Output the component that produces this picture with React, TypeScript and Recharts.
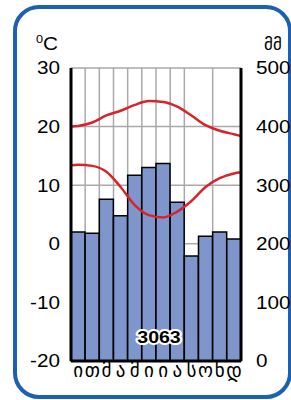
import { ComposedChart, Bar, Line, XAxis, YAxis, CartesianGrid } from 'recharts';

// months (Georgian initials), precipitation in mm
const months = ['ი', 'თ', 'მ', 'ა', 'მ', 'ი', 'ი', 'ა', 'ს', 'ო', 'ნ', 'დ'];
const precipitation = [220, 218, 276, 248, 317, 330, 337, 271, 179, 213, 220, 208];

// temperature curves, sampled at the plot edges and month centres (month index)
const curvePos = [0, 0.5, 1.5, 2.5, 3.5, 4.5, 5.5, 6.5, 7.5, 8.5, 9.5, 10.5, 11.5, 12];
const upperTemp = [20.0, 20.1, 20.7, 21.9, 22.7, 23.7, 24.35, 24.2, 23.4, 21.9, 20.25, 19.3, 18.7, 18.4];
const lowerTemp = [13.4, 13.5, 13.3, 12.3, 9.7, 6.6, 4.9, 4.5, 5.5, 7.3, 9.7, 11.2, 12.0, 12.2];

const tempTicks = [-20, -10, 0, 10, 20, 30];
const precipTicks = [0, 100, 200, 300, 400, 500];
const monthIndexTicks = [0, 1, 2, 3, 4, 5, 6, 7, 8, 9, 10, 11, 12];
const annualTotal = '3063';

const barData = months.map((m, i) => ({ month: m, precip: precipitation[i] }));
const curveData = curvePos.map((p, i) => ({ pos: p, upper: upperTemp[i], lower: lowerTemp[i] }));

const FONT = '"Liberation Sans", Arial, sans-serif';

function NumTick({ x, y, payload, anchor }: any) {
  return (
    <text
      transform={`translate(${x},${y}) scale(1.15,1)`}
      textAnchor={anchor}
      dy="0.36em"
      fontSize={18}
      fontFamily={FONT}
      fill="#000"
    >
      {payload.value}
    </text>
  );
}

function MonthTick({ x, y, payload }: any) {
  return (
    <text x={x} y={y + 14} textAnchor="middle" fontSize={19} fontFamily='"DejaVu Sans", sans-serif' fill="#000">
      {payload.value}
    </text>
  );
}

export default function App() {
  return (
    <div style={{ position: 'absolute', left: 0, top: 0, width: 291, height: 400, background: '#fff', overflow: 'hidden' }}>
      <div
        style={{
          position: 'absolute',
          left: 13,
          top: 5,
          width: 279,
          height: 394,
          boxSizing: 'border-box',
          border: '4px solid #1b60b2',
          borderRadius: 26,
        }}
      />
      <ComposedChart
        width={291}
        height={400}
        data={barData}
        margin={{ top: 68, right: 0, bottom: 0, left: 0 }}
        barCategoryGap={0}
        style={{ position: 'absolute', left: 0, top: 0 }}
      >
        <XAxis
          xAxisId="cat"
          dataKey="month"
          height={39}
          tickLine={false}
          tickSize={0}
          axisLine={{ stroke: '#000', strokeWidth: 3 }}
          tick={<MonthTick />}
          interval={0}
        />
        <XAxis xAxisId="num" type="number" dataKey="pos" domain={[0, 12]} ticks={monthIndexTicks} hide />
        <YAxis
          yAxisId="temp"
          orientation="left"
          width={71}
          domain={[-20, 30]}
          ticks={tempTicks}
          tickLine={false}
          tickSize={0}
          tickMargin={11}
          axisLine={{ stroke: '#000', strokeWidth: 3 }}
          tick={<NumTick anchor="end" />}
        />
        <YAxis
          yAxisId="mm"
          orientation="right"
          width={50}
          domain={[0, 500]}
          ticks={precipTicks}
          tickLine={false}
          tickSize={0}
          tickMargin={15}
          axisLine={{ stroke: '#000', strokeWidth: 3 }}
          tick={<NumTick anchor="start" />}
        />
        <CartesianGrid xAxisId="num" yAxisId="temp" stroke="#a9a9a9" strokeWidth={1.5} />
        <Bar
          xAxisId="cat"
          yAxisId="mm"
          dataKey="precip"
          fill="#7e96cc"
          stroke="#000"
          strokeWidth={1.5}
          isAnimationActive={false}
        />
        <Line
          xAxisId="num"
          yAxisId="temp"
          data={curveData}
          dataKey="upper"
          type="monotone"
          stroke="#d8232a"
          strokeWidth={2.5}
          dot={false}
          isAnimationActive={false}
        />
        <Line
          xAxisId="num"
          yAxisId="temp"
          data={curveData}
          dataKey="lower"
          type="monotone"
          stroke="#d8232a"
          strokeWidth={2.5}
          dot={false}
          isAnimationActive={false}
        />
      </ComposedChart>
      <svg width={291} height={400} style={{ position: 'absolute', left: 0, top: 0, pointerEvents: 'none' }}>
        <text transform="translate(36,50) scale(1.15,1)" fontSize={18} fontFamily={FONT} fill="#000">
          <tspan fontSize={11} dy={-7}>0</tspan>
          <tspan dy={7}>C</tspan>
        </text>
        <text x={273} y={50} textAnchor="middle" fontSize={17} fontFamily='"DejaVu Sans", sans-serif' fill="#000">
          მმ
        </text>
        <text
          transform="translate(159,343) scale(1.15,1)"
          textAnchor="middle"
          fontSize={17}
          fontWeight="bold"
          fontFamily={FONT}
          fill="#000"
          stroke="#fff"
          strokeWidth={4}
          strokeLinejoin="round"
          paintOrder="stroke"
        >
          {annualTotal}
        </text>
      </svg>
    </div>
  );
}
